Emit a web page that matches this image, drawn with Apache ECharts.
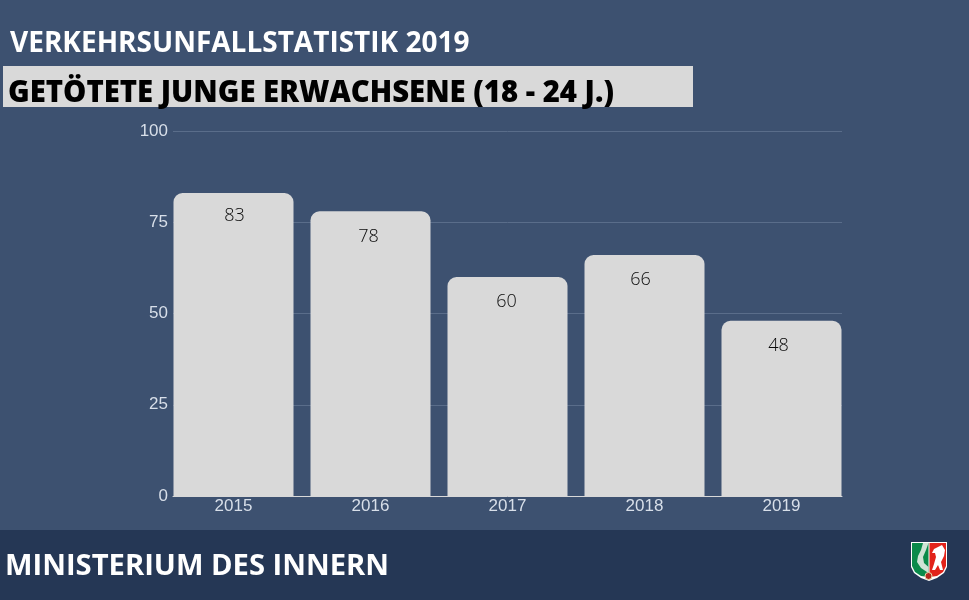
<!DOCTYPE html>
<html><head><meta charset="utf-8">
<style>html,body{margin:0;padding:0;background:#3d5170}#c{width:969px;height:600px}</style>
<script src="https://cdn.jsdelivr.net/npm/echarts@6/dist/echarts.min.js"></script>
</head><body><div id="c"></div>
<script>
const years = ['2015','2016','2017','2018','2019'];
const killed = [83,78,60,66,48];
const yTicks = [0,25,50,75,100];
const heading = 'VERKEHRSUNFALLSTATISTIK 2019';
const subheading = 'GETÖTETE JUNGE ERWACHSENE (18 - 24 J.)';
const footer = 'MINISTERIUM DES INNERN';

const chart = echarts.init(document.getElementById('c'), null, {renderer:'canvas'});
const labelOffsets = [[1,-1],[-2,2],[-1,1],[-4,1],[-3,1]];
chart.setOption({
  animation:false,
  backgroundColor:'#3d5170',
  grid:[
    {left:173,right:127,top:131,bottom:104},
    {left:165,right:119,top:131,bottom:104}
  ],
  xAxis:[
    {gridIndex:0,type:'category',data:years,
      axisLine:{show:true,onZero:false,lineStyle:{color:'#d9d9d9',width:1}},
      axisTick:{show:false},axisLabel:{show:false}},
    {gridIndex:1,type:'category',data:years,
      axisLine:{show:false},
      axisTick:{show:false},
      axisLabel:{color:'#d8dfe9',fontFamily:'Liberation Sans',fontSize:17,margin:2}}
  ],
  yAxis:[
    {gridIndex:0,type:'value',min:0,max:100,interval:25,
      axisLine:{show:false},axisTick:{show:false},
      splitLine:{show:true,lineStyle:{color:'#5a6d8a',width:1}},
      axisLabel:{color:'#d8dfe9',fontFamily:'Liberation Sans',fontSize:17,margin:5,padding:[4,0,0,0],
        formatter:v=>yTicks.includes(v)?String(v):''}},
    {gridIndex:1,type:'value',min:0,max:100,interval:25,show:false,splitLine:{show:false}}
  ],
  series:[{
    type:'bar',xAxisIndex:1,yAxisIndex:1,barWidth:120,
    data:killed.map((v,i)=>({value:v,label:{offset:labelOffsets[i]}})),
    itemStyle:{color:'#d9d9d9',borderRadius:[9,9,0,0]},
    label:{show:true,position:'insideTop',distance:15,color:'#0a0a0a',
      fontFamily:'Open Sans',fontWeight:300,fontSize:18}
  }],
  graphic:[
    {type:'rect',z:0,silent:true,shape:{x:0,y:530,width:969,height:70},style:{fill:'#253755'}},
    {type:'rect',z:1,silent:true,shape:{x:3,y:66,width:690,height:41},style:{fill:'#d9d9d9'}},
    {type:'text',z:2,x:10,y:44,style:{text:heading,fill:'#ffffff',font:'700 28px "Open Sans"',verticalAlign:'middle'}},
    {type:'text',z:2,x:8,y:94,style:{text:subheading,fill:'#000000',font:'800 29.3px "Open Sans"',verticalAlign:'middle'}},
    {type:'text',z:2,x:5,y:567,style:{text:footer,fill:'#ffffff',font:'700 29.2px "Open Sans"',verticalAlign:'middle'}},
    {type:'group',z:3,x:911,y:542,children:[
      {type:'polygon',shape:{points:[[0,0],[36,0],[36,25],[33,31],[26,36],[18,39],[10,36],[3,31],[0,25]]},style:{fill:'#ffffff'}},
      {type:'polygon',shape:{points:[[1,1],[17.5,1],[17.5,35],[10,34],[4,30],[1,24]]},style:{fill:'#0a8a4a'}},
      {type:'polygon',shape:{points:[[18.5,1],[35,1],[35,24],[32,30],[26,34],[18.5,35]]},style:{fill:'#e2231a'}},
      {type:'polygon',shape:{points:[[12,1],[10,8],[7,14],[6,20],[10,26],[17.5,31],[17.5,25],[13,21],[12,15],[15,8],[17.5,1]]},style:{fill:'#cfe3d6'}},
      {type:'polygon',shape:{points:[[31,3],[27,5],[23,7],[21,11],[24,11],[25,15],[23,22],[21,28],[24,28],[27,23],[29,28],[32,28],[30,20],[33,14],[34,8]]},style:{fill:'#ffffff'}},
      {type:'circle',shape:{cx:17.5,cy:34,r:3.5},style:{fill:'#b5261e',stroke:'#e6d9a8',lineWidth:1}}
    ]}
  ]
});
</script></body></html>
